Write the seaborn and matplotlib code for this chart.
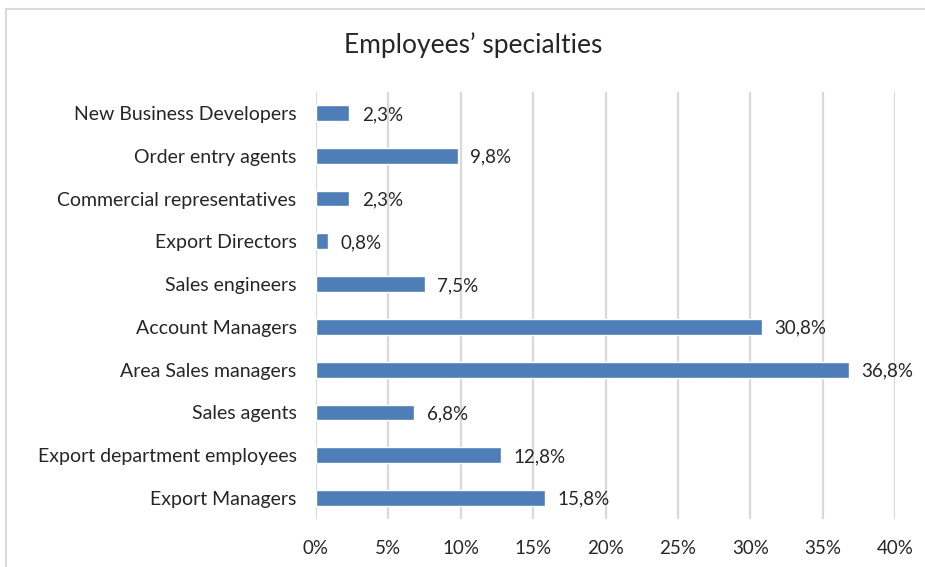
import matplotlib
matplotlib.use("Agg")
import matplotlib.pyplot as plt
import matplotlib.patches as mpatches
from matplotlib.ticker import MultipleLocator, FuncFormatter
import seaborn as sns
import pandas as pd

specialties = [
    "New Business Developers",
    "Order entry agents",
    "Commercial representatives",
    "Export Directors",
    "Sales engineers",
    "Account Managers",
    "Area Sales managers",
    "Sales agents",
    "Export department employees",
    "Export Managers",
]
shares = [2.3, 9.8, 2.3, 0.8, 7.5, 30.8, 36.8, 6.8, 12.8, 15.8]

df = pd.DataFrame({"specialty": specialties, "share": shares})

sns.set_theme(style="white")
plt.rcParams["font.family"] = ["Lato", "DejaVu Sans"]

fig = plt.figure(figsize=(9.25, 5.67), dpi=100)
ax = fig.add_axes([0.3416, 0.0840, 0.6260, 0.7544])

bar_color = "#4F7DB8"
sns.barplot(data=df, x="share", y="specialty", orient="h", color=bar_color,
            width=0.37, saturation=1, ax=ax, zorder=3)

ax.set_xlim(0, 40)
ax.set_ylim(9.5, -0.5)
ax.xaxis.set_major_locator(MultipleLocator(5))
ax.xaxis.set_major_formatter(FuncFormatter(lambda v, _: f"{v:.0f}%"))
ax.grid(axis="x", color="#D9D9D9", linewidth=1.6, zorder=0)
ax.grid(axis="y", visible=False)
for s in ax.spines.values():
    s.set_visible(False)
ax.set_xlabel("")
ax.set_ylabel("")
ax.tick_params(axis="x", length=0, pad=15, labelsize=13.5)
ax.tick_params(axis="y", length=0, pad=14, labelsize=14)
for lbl in ax.get_xticklabels() + ax.get_yticklabels():
    lbl.set_color("#262626")

for i, v in enumerate(shares):
    ax.annotate(f"{v:.1f}%".replace(".", ","), xy=(v, i), xytext=(9, -1),
                textcoords="offset points", va="center", ha="left",
                fontsize=13.5, color="#262626")

fig.text(0.512, 0.92, "Employees\u2019 specialties", ha="center", va="center",
         fontsize=19, color="#262626")

# light frame around the chart area
fig.patches.append(mpatches.Rectangle((0.007, -0.01), 1.0, 0.994, transform=fig.transFigure,
                                      fill=False, edgecolor="#D9D9D9", linewidth=1.5))

fig.savefig("out.png", dpi=100)
